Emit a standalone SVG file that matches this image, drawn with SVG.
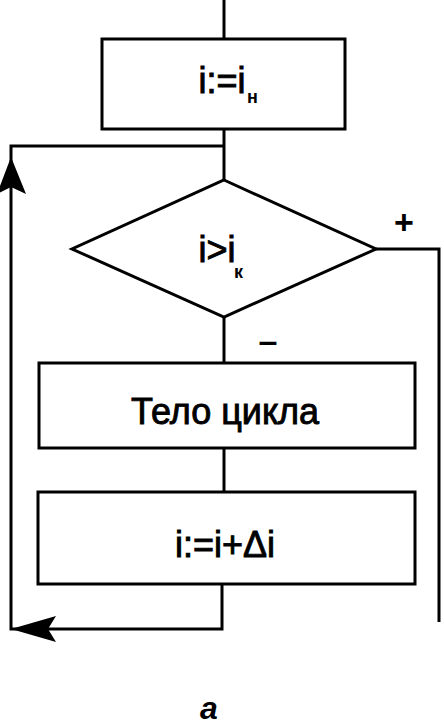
<svg xmlns="http://www.w3.org/2000/svg" width="444" height="726" viewBox="0 0 444 726">
<style>
.box{fill:#fff;stroke:#000;stroke-width:3}
.ln{fill:none;stroke:#000;stroke-width:3}
.t{font-family:"Liberation Sans",Arial,sans-serif;font-size:36px;fill:#000;stroke:#000;stroke-width:0.9;text-anchor:middle}
.sub{font-family:"Liberation Sans",Arial,sans-serif;font-size:18px;font-weight:bold;fill:#000}
.lbl{font-family:"Liberation Sans",Arial,sans-serif;font-weight:bold;fill:#000;text-anchor:middle}
</style>
<rect width="444" height="726" fill="#fff"/>
<g id="connectors">
<path class="ln" d="M224,0 V39"/>
<path class="ln" d="M224,129 V180"/>
<path class="ln" d="M224,146 H11 V629 H222 V584"/>
<path class="ln" d="M224,317 V363"/>
<path class="ln" d="M224,448 V492"/>
<path class="ln" d="M376,249 H439 V622"/>
<path d="M11,157 L26,194 L11,187 L-3,194 Z" fill="#000"/>
<path d="M11,629 L56,616 L48,629 L56,642 Z" fill="#000"/>
<text class="lbl" x="404" y="234" font-size="34">+</text>
<text class="lbl" x="268" y="352" font-size="34">–</text>
</g>
<g id="init">
<rect class="box" x="102" y="39" width="243" height="90"/>
<text class="t" x="222" y="93">i:=i</text>
<text class="sub" x="247" y="103">н</text>
</g>
<g id="cond">
<polygon class="box" points="224,180 376,249 224,317 72,249"/>
<text class="t" x="217" y="262">i&gt;i</text>
<text class="sub" x="234" y="278">к</text>
</g>
<g id="body">
<rect class="box" x="39" y="363" width="376" height="85"/>
<text class="t" x="225" y="424">Тело цикла</text>
</g>
<g id="incr">
<rect class="box" x="38" y="492" width="377" height="92"/>
<text class="t" x="225" y="557">i:=i+Δi</text>
</g>
<text class="lbl" x="209" y="719" font-size="32" font-style="italic">а</text>
</svg>
